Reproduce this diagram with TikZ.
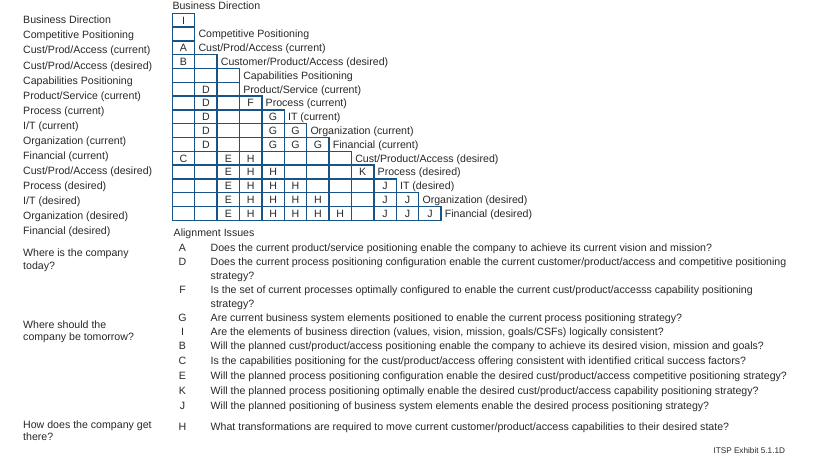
\documentclass[tikz,border=0pt]{standalone}
\usepackage{fontspec}
\setmainfont{Liberation Sans}
\definecolor{gridblue}{RGB}{24,84,134}
\definecolor{ink}{RGB}{40,40,40}
\tikzset{
	txt/.style={anchor=west, inner sep=0pt, text height=7.6pt, text depth=0pt, text=ink, font=\fontsize{10.6}{12}\selectfont},
	ltr/.style={inner sep=0pt, text height=7.6pt, text depth=0pt, text=ink, font=\fontsize{10.6}{12}\selectfont},
	cell/.style={draw=gridblue, line width=1.4pt, minimum width=22.4pt, minimum height=13.8pt, inner sep=0pt, outer sep=0pt},
	small/.style={anchor=west, inner sep=0pt, text=ink, font=\fontsize{8.2}{9}\selectfont}
}
\begin{document}
\begin{tikzpicture}[x=1pt, y=-1pt]
		\useasboundingbox (0,0) rectangle (817,466);
		\foreach \t [count=\i from 0] in {Business Direction, Competitive Positioning, Cust/Prod/Access (current), Cust/Prod/Access (desired), Capabilities Positioning, Product/Service (current), Process (current), I/T (current), Organization (current), Financial (current), Cust/Prod/Access (desired), Process (desired), I/T (desired), Organization (desired), Financial (desired)}{
			\node[txt] (ll\i) at (23, 20+15.07*\i) {\t};
		}
		\node[txt] (bd) at (172.3, 5.5) {Business Direction};
		\foreach \r/\n in {0/0, 1/0, 2/0, 3/1, 4/2, 5/2, 6/3, 7/4, 8/5, 9/6, 10/7, 11/8, 12/9, 13/10, 14/11}{
			\foreach \c in {0,...,\n}{
				\node[cell] (c\r-\c) at (183.5+22.4*\c, 20.2+13.8*\r) {};
			}
		}
		\foreach \r/\n/\t in {1/0/{Competitive Positioning}, 2/0/{Cust/Prod/Access (current)}, 3/1/{Customer/Product/Access (desired)}, 4/2/{Capabilities Positioning}, 5/2/{Product/Service (current)}, 6/3/{Process (current)}, 7/4/{IT (current)}, 8/5/{Organization (current)}, 9/6/{Financial (current)}, 10/7/{Cust/Product/Access (desired)}, 11/8/{Process (desired)}, 12/9/{IT (desired)}, 13/10/{Organization (desired)}, 14/11/{Financial (desired)}}{
			\node[txt] (rl\r) at (172.3+22.4*\n+26, 20.2+13.8*\r) {\t};
		}
		\foreach \r/\c/\l in {0/0/I, 2/0/A, 3/0/B, 6/3/F, 10/0/C, 11/8/K}{
			\node[ltr] (L\r-\c) at (c\r-\c) {\l};
		}
		\foreach \r in {5,...,9}{
			\node[ltr] (L\r-1) at (c\r-1) {D};
		}
		\foreach \r in {10,...,14}{
			\node[ltr] (L\r-2) at (c\r-2) {E};
		}
		\foreach \r in {7,8,9}{
			\pgfmathtruncatemacro\m{\r-3}
			\foreach \c in {4,...,\m}{
				\node[ltr] (L\r-\c) at (c\r-\c) {G};
			}
		}
		\foreach \r in {10,...,14}{
			\pgfmathtruncatemacro\m{\r-7}
			\foreach \c in {3,...,\m}{
				\node[ltr] (L\r-\c) at (c\r-\c) {H};
			}
		}
		\foreach \r in {12,13,14}{
			\pgfmathtruncatemacro\m{\r-3}
			\foreach \c in {9,...,\m}{
				\node[ltr] (L\r-\c) at (c\r-\c) {J};
			}
		}
		\node[txt] (ai) at (173.5, 232.5) {Alignment Issues};
		\foreach \y/\l/\t in {248/A/{Does the current product/service positioning enable the company to achieve its current vision and mission?}, 261.7/D/{Does the current process positioning configuration enable the current customer/product/access and competitive positioning}, 290/F/{Is the set of current processes optimally configured to enable the current cust/product/accesss capability positioning}, 317.6/G/{Are current business system elements positioned to enable the current process positioning strategy?}, 331.6/I/{Are the elements of business direction (values, vision, mission, goals/CSFs) logically consistent?}, 345.8/B/{Will the planned cust/product/access positioning enable the company to achieve its desired vision, mission and goals?}, 361/C/{Is the capabilities positioning for the cust/product/access offering consistent with identified critical success factors?}, 376/E/{Will the planned process positioning configuration enable the desired cust/product/access competitive positioning strategy?}, 390.8/K/{Will the planned process positioning optimally enable the desired cust/product/access capability positioning strategy?}, 405.8/J/{Will the planned positioning of business system elements enable the desired process positioning strategy?}, 426.8/H/{What transformations are required to move current customer/product/access capabilities to their desired state?}}{
			\node[ltr] (k\l) at (182.5, \y) {\l};
			\node[txt] (q\l) at (210.5, \y) {\t};
		}
		\node[txt] (qD2) at (210.5, 275.2) {strategy?};
		\node[txt] (qF2) at (210.5, 303.5) {strategy?};
		\node[txt] (w1a) at (23, 252.3) {Where is the company};
		\node[txt] (w1b) at (23, 265.7) {today?};
		\node[txt] (w2a) at (23, 324.3) {Where should the};
		\node[txt] (w2b) at (23, 336.7) {company be tomorrow?};
		\node[txt] (w3a) at (23, 424.3) {How does the company get};
		\node[txt] (w3b) at (23, 436.7) {there?};
		\node[small] (ex) at (713.3, 450.7) {ITSP Exhibit 5.1.1D};
\end{tikzpicture}
\end{document}
